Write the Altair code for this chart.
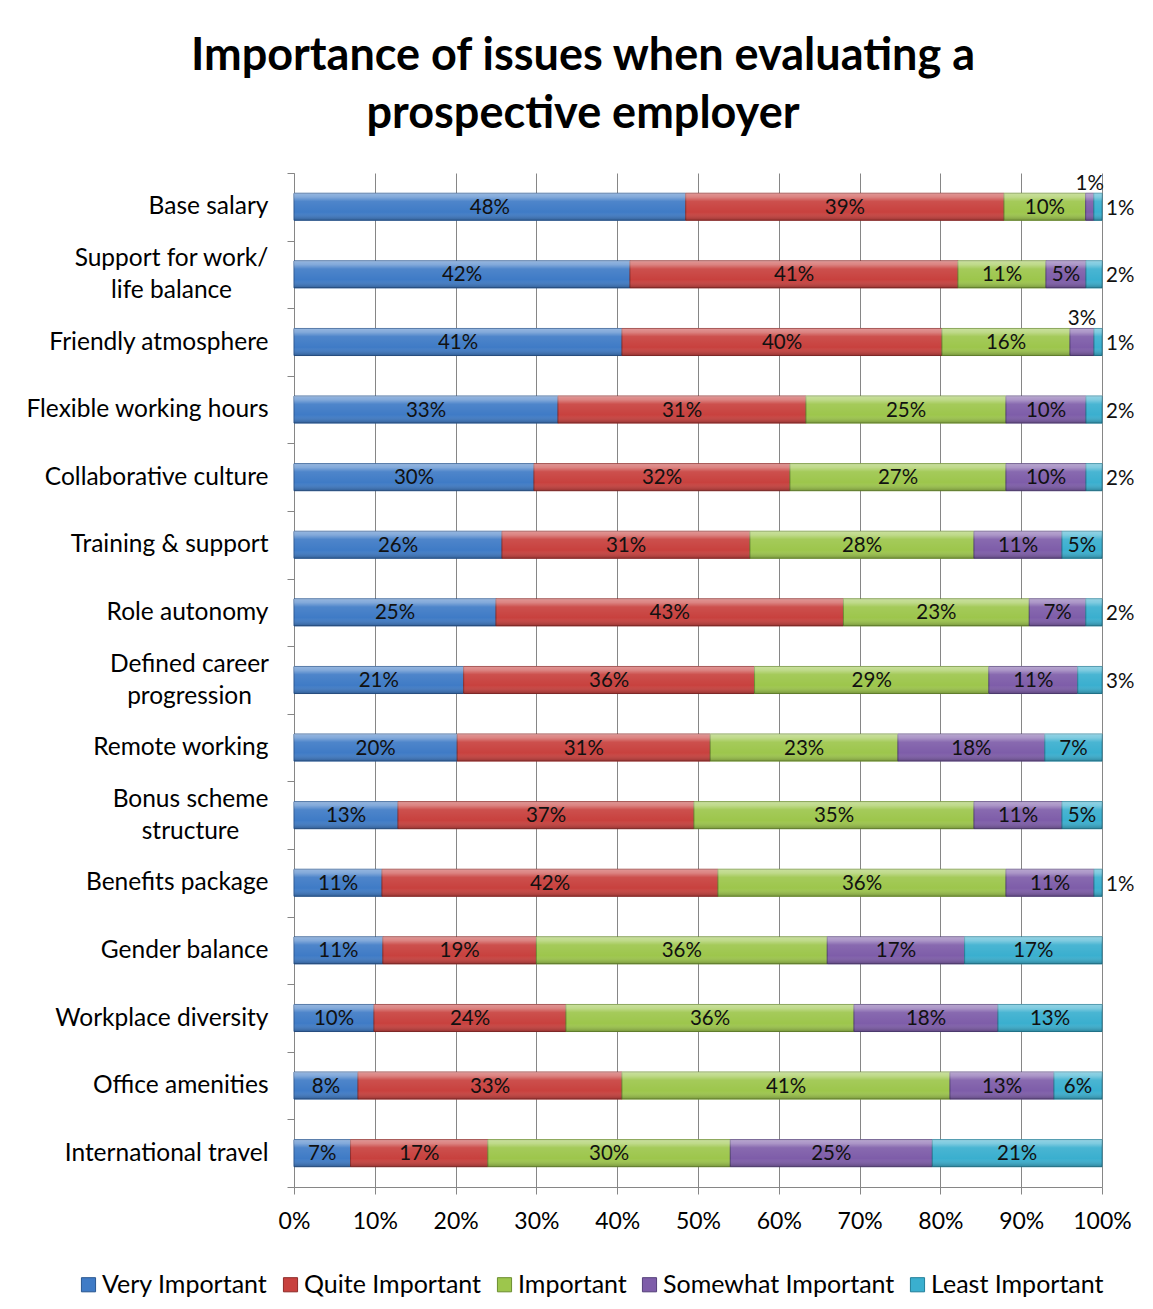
import altair as alt
import pandas as pd

categories = ["Base salary", "Support for work/|life balance", "Friendly atmosphere",
              "Flexible working hours", "Collaborative culture", "Training & support",
              "Role autonomy", "Defined career|progression", "Remote working",
              "Bonus scheme|structure", "Benefits package", "Gender balance",
              "Workplace diversity", "Office amenities", "International travel"]
series = ["Very Important", "Quite Important", "Important", "Somewhat Important", "Least Important"]
very = [48, 42, 41, 33, 30, 26, 25, 21, 20, 13, 11, 11, 10, 8, 7]
quite = [39, 41, 40, 31, 32, 31, 43, 36, 31, 37, 42, 19, 24, 33, 17]
important = [10, 11, 16, 25, 27, 28, 23, 29, 23, 35, 36, 36, 36, 41, 30]
somewhat = [1, 5, 3, 10, 10, 11, 7, 11, 18, 11, 11, 17, 18, 13, 25]
least = [1, 2, 1, 2, 2, 5, 2, 3, 7, 5, 1, 17, 13, 6, 21]
colors = ["#3F7BC6", "#C8413E", "#9DC64C", "#7E5DA9", "#3AAFCF"]
strokes = ["#2A5790", "#8E2C2A", "#6C8E30", "#55407A", "#237F99"]
x_ticks = [0, 0.1, 0.2, 0.3, 0.4, 0.5, 0.6, 0.7, 0.8, 0.9, 1.0]

values = [very, quite, important, somewhat, least]
rows = []
for i, cat in enumerate(categories):
    total = sum(v[i] for v in values)
    cum = 0
    for j, s in enumerate(series):
        v = values[j][i]
        start = cum / total
        end = (cum + v) / total
        cum += v
        if v > 3:
            place = "in"
        elif j == 4:
            place = "right"
        else:
            place = "above"
        rows.append({"category": cat, "series": s, "order": j, "value": v,
                     "start": start, "end": end, "mid": (start + end) / 2,
                     "label": f"{v}%", "place": place})
df = pd.DataFrame(rows)

FONT = "Lato"
GRID = "#868686"
MULTI = "indexof(datum.label, '|') >= 0"

y_enc = alt.Y("category:N", sort=categories,
              scale=alt.Scale(paddingInner=0, paddingOuter=0),
              axis=alt.Axis(title=None, labelFont=FONT, labelFontSize=24.5, labelColor="#000",
                            tickBand="extent", tickSize=7, tickColor=GRID, domainColor=GRID,
                            labelExpr="split(datum.label, '|')",
                            labelLineHeight=32, grid=False, labelLimit=400,
                            labelAlign={"condition": {"test": MULTI, "value": "center"},
                                        "value": "right"},
                            labelPadding={"condition": [
                                {"test": "datum.label == 'Support for work/|life balance'", "value": 116},
                                {"test": "datum.label == 'Defined career|progression'", "value": 98},
                                {"test": "datum.label == 'Bonus scheme|structure'", "value": 97}],
                                "value": 19},
                            labelOffset={"condition": {"test": MULTI, "value": -16},
                                         "value": 0}))
x_scale = alt.Scale(domain=[0, 1], nice=False)
x_axis = alt.Axis(title=None, values=x_ticks, format=".0%", grid=True, gridColor=GRID,
                  gridOpacity=1, tickSize=7, tickColor=GRID, domainColor=GRID,
                  labelFont=FONT, labelFontSize=23, labelColor="#000", labelPadding=16,
                  labelFlush=False)

base = alt.Chart(df)

bars = base.mark_bar(height=alt.RelativeBandSize(0.4), strokeWidth=1).encode(
    y=y_enc,
    x=alt.X("start:Q", scale=x_scale, axis=x_axis),
    x2="end:Q",
    color=alt.Color("series:N", scale=alt.Scale(domain=series, range=colors),
                    legend=alt.Legend(orient="none", legendX=-218, legendY=1099,
                                      direction="horizontal", title=None,
                                      symbolType="square", symbolSize=200,
                                      symbolStrokeWidth=1, symbolStrokeColor="#2a3a55",
                                      labelFont=FONT, labelFontSize=25, labelColor="#000",
                                      labelOffset=1, columnPadding=10, labelLimit=400)),
    stroke=alt.Stroke("series:N", scale=alt.Scale(domain=series, range=strokes), legend=None),
)

shine = base.mark_bar(
    height=alt.RelativeBandSize(0.4),
    fill=alt.Gradient(gradient="linear", x1=0, x2=0, y1=0, y2=1,
                      stops=[alt.GradientStop(color="rgba(255,255,255,0.45)", offset=0),
                             alt.GradientStop(color="rgba(255,255,255,0.35)", offset=0.14),
                             alt.GradientStop(color="rgba(255,255,255,0.08)", offset=0.3),
                             alt.GradientStop(color="rgba(255,255,255,0)", offset=0.7),
                             alt.GradientStop(color="rgba(0,0,0,0.25)", offset=1)]),
).encode(y=alt.Y("category:N", sort=categories), x="start:Q", x2="end:Q")

txt_in = base.transform_filter("datum.place == 'in'").mark_text(
    font=FONT, fontSize=20.5, color="#111", align="center", baseline="middle", dy=1
).encode(y=alt.Y("category:N", sort=categories), x="mid:Q", text="label:N")

txt_right = base.transform_filter("datum.place == 'right'").mark_text(
    font=FONT, fontSize=20.5, color="#111", align="left", baseline="middle", dx=4, dy=2
).encode(y=alt.Y("category:N", sort=categories), x="end:Q", text="label:N")

txt_above = base.transform_filter("datum.place == 'above'").mark_text(
    font=FONT, fontSize=20.5, color="#111", align="center", baseline="middle", dy=-23
).encode(y=alt.Y("category:N", sort=categories), x="mid:Q", text="label:N")

chart = alt.layer(bars, shine, txt_in, txt_right, txt_above).properties(
    width=808, height=1014,
    padding={"left": 286, "top": 165, "right": 43, "bottom": 114},
    autosize=alt.AutoSizeParams(type="none"),
    title=alt.TitleParams(text=["Importance of issues when evaluating a", "prospective employer"],
                          font=FONT, fontSize=45, fontWeight="bold", color="#000",
                          anchor="middle", frame="group", dx=-115, offset=23, lineHeight=58),
).configure_view(stroke="transparent")

chart.save("out.html", embed_options={"renderer": "svg", "actions": False})
